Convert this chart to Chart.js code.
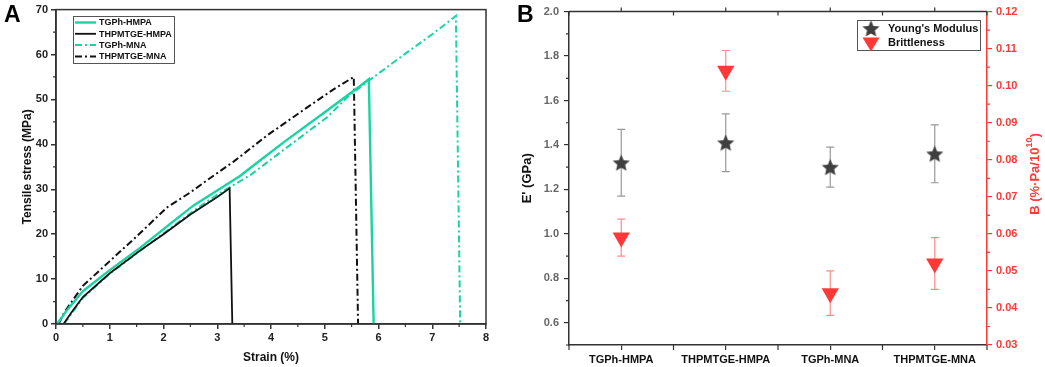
<!DOCTYPE html>
<html>
<head>
<meta charset="utf-8">
<script src="https://cdn.jsdelivr.net/npm/chart.js@4.4.1/dist/chart.umd.min.js"></script>
<style>
  html, body { margin: 0; padding: 0; background: #fff; }
  #wrap { position: relative; width: 1045px; height: 367px; overflow: hidden; }
  #chartA { position: absolute; left: 0; top: 0; }
  #chartB { position: absolute; left: 500px; top: 0; }
</style>
</head>
<body>
<div id="wrap">
  <canvas id="chartA" width="500" height="367"></canvas>
  <canvas id="chartB" width="545" height="367"></canvas>
</div>
<script>
// ---- Panel A: stress-strain curves ----
const seriesNames = ['TGPh-HMPA', 'THPMTGE-HMPA', 'TGPh-MNA', 'THPMTGE-MNA'];

const tgphHmpaStrain = [0.02, 0.2, 0.5, 1.0, 1.57, 2.07, 2.56, 3.0, 3.43, 3.62, 4.24, 5.05, 5.67, 5.82, 5.91];
const tgphHmpaStress = [0, 3.0, 7.3, 12.0, 17.0, 21.8, 26.4, 29.7, 33.0, 34.8, 40.5, 47.6, 53.1, 54.5, 0];

const thpHmpaStrain = [0.14, 0.3, 0.5, 1.0, 1.57, 2.0, 2.5, 3.0, 3.23, 3.28];
const thpHmpaStress = [0, 2.8, 6.0, 11.3, 16.4, 20.0, 24.4, 28.3, 30.2, 0];

const tgphMnaStrain = [0.15, 0.3, 0.5, 1.0, 1.57, 2.07, 2.56, 3.0, 3.62, 4.24, 5.05, 5.42, 5.8, 6.5, 7.0, 7.44, 7.52];
const tgphMnaStress = [0, 2.5, 5.8, 11.2, 16.3, 20.8, 25.2, 28.8, 33.2, 38.8, 46.1, 50.5, 54.0, 60.2, 64.5, 68.6, 0];

const thpMnaStrain = [0.05, 0.15, 0.5, 1.0, 1.5, 2.07, 2.5, 2.81, 3.31, 3.93, 4.55, 5.17, 5.54, 5.62];
const thpMnaStress = [0, 2.5, 8.5, 14.0, 19.5, 26.0, 29.3, 32.0, 36.2, 42.0, 47.2, 52.3, 55.0, 0];

const strainTicks = [0, 1, 2, 3, 4, 5, 6, 7, 8];
const stressTicks = [0, 10, 20, 30, 40, 50, 60, 70];

// ---- Panel B: modulus and brittleness ----
const samples = ['TGPh-HMPA', 'THPMTGE-HMPA', 'TGPh-MNA', 'THPMTGE-MNA'];
const youngsModulus = [1.32, 1.41, 1.30, 1.36];
const youngsErr = [0.15, 0.13, 0.09, 0.13];
const brittleness = [0.059, 0.104, 0.044, 0.052];
const brittleErr = [0.005, 0.0055, 0.006, 0.007];
const modulusTicks = [0.6, 0.8, 1.0, 1.2, 1.4, 1.6, 1.8, 2.0];
const brittleTicks = [0.03, 0.04, 0.05, 0.06, 0.07, 0.08, 0.09, 0.10, 0.11, 0.12];

const GREEN = '#19d3a2';
const BLACK = '#111';
const RED = '#ff3838';
const AXIS = '#333';
const FONT = "'Liberation Sans', Arial, sans-serif";
const DASHDOT = [7, 3, 2, 3];

Chart.defaults.font.family = FONT;
Chart.defaults.font.weight = 'bold';

function toPoints(xs, ys) {
  return xs.map((x, i) => ({ x: x, y: ys[i] }));
}

function setTicks(values) {
  return scale => { scale.ticks = values.map(v => ({ value: v })); };
}

// short outward ticks between the labelled ones
function drawMinor(ctx, scale, values, len, color, side) {
  ctx.save();
  ctx.strokeStyle = color;
  ctx.lineWidth = 1.2;
  ctx.beginPath();
  values.forEach(v => {
    const p = scale.getPixelForValue(v);
    if (side === 'bottom') { ctx.moveTo(p, scale.top); ctx.lineTo(p, scale.top + len); }
    if (side === 'left') { ctx.moveTo(scale.right, p); ctx.lineTo(scale.right - len, p); }
    if (side === 'right') { ctx.moveTo(scale.left, p); ctx.lineTo(scale.left + len, p); }
  });
  ctx.stroke();
  ctx.restore();
}

function halfSteps(ticks) {
  const out = [];
  for (let i = 0; i < ticks.length - 1; i++) out.push((ticks[i] + ticks[i + 1]) / 2);
  return out;
}

// ---- chart A ----
const panelA = {
  id: 'panelA',
  afterDraw(chart) {
    const ctx = chart.ctx;
    const a = chart.chartArea;
    ctx.save();
    ctx.strokeStyle = AXIS;
    ctx.lineWidth = 1.5;
    ctx.strokeRect(a.left, a.top, a.right - a.left, a.bottom - a.top);
    ctx.restore();

    drawMinor(ctx, chart.scales.x, halfSteps(strainTicks), 3, AXIS, 'bottom');
    drawMinor(ctx, chart.scales.y, halfSteps(stressTicks), 3, AXIS, 'left');

    // legend
    ctx.save();
    ctx.strokeStyle = '#555';
    ctx.lineWidth = 1;
    ctx.strokeRect(73.5, 16.5, 101, 47);
    const rows = [22.5, 33.8, 45, 56.5];
    chart.data.datasets.forEach((ds, i) => {
      ctx.strokeStyle = ds.borderColor;
      ctx.lineWidth = ds.borderWidth;
      ctx.setLineDash(ds.borderDash || []);
      ctx.beginPath();
      ctx.moveTo(75, rows[i]);
      ctx.lineTo(96, rows[i]);
      ctx.stroke();
      ctx.setLineDash([]);
      ctx.fillStyle = '#111';
      ctx.font = 'bold 9px ' + FONT;
      ctx.textBaseline = 'middle';
      ctx.fillText(ds.label, 99, rows[i] + 0.5, 73);
    });
    ctx.font = 'bold 23px ' + FONT;
    ctx.textBaseline = 'top';
    ctx.fillStyle = '#000';
    ctx.fillText('A', 4, 4);
    ctx.restore();
  }
};

new Chart(document.getElementById('chartA'), {
  type: 'scatter',
  data: {
    datasets: [
      { label: seriesNames[0], data: toPoints(tgphHmpaStrain, tgphHmpaStress), borderColor: GREEN, borderWidth: 2.4 },
      { label: seriesNames[1], data: toPoints(thpHmpaStrain, thpHmpaStress), borderColor: BLACK, borderWidth: 1.8 },
      { label: seriesNames[2], data: toPoints(tgphMnaStrain, tgphMnaStress), borderColor: GREEN, borderWidth: 2, borderDash: DASHDOT },
      { label: seriesNames[3], data: toPoints(thpMnaStrain, thpMnaStress), borderColor: BLACK, borderWidth: 2, borderDash: DASHDOT }
    ].map(ds => Object.assign(ds, { showLine: true, pointRadius: 0, tension: 0, fill: false }))
  },
  options: {
    responsive: false,
    animation: false,
    devicePixelRatio: 1,
    layout: { padding: { left: 0, right: 14, top: 6, bottom: 0 } },
    plugins: { legend: { display: false }, tooltip: { enabled: false } },
    scales: {
      x: {
        type: 'linear', min: 0, max: 8,
        afterBuildTicks: setTicks(strainTicks),
        afterFit: s => { s.height = 43; },
        ticks: { color: '#222', font: { size: 11, weight: 'bold' }, padding: 2 },
        grid: { drawOnChartArea: false, tickLength: 5, color: AXIS, lineWidth: 1.5 },
        border: { color: AXIS, width: 1.5 },
        title: { display: true, text: 'Strain (%)', color: '#111', font: { size: 12, weight: 'bold' }, padding: { top: 0, bottom: 2 } }
      },
      y: {
        type: 'linear', min: 0, max: 70,
        afterBuildTicks: setTicks(stressTicks),
        afterFit: s => { s.width = 56; },
        ticks: { color: '#222', font: { size: 11, weight: 'bold' }, padding: 3 },
        grid: { drawOnChartArea: false, tickLength: 5, color: AXIS, lineWidth: 1.5 },
        border: { color: AXIS, width: 1.5 },
        title: { display: true, text: 'Tensile stress (MPa)', color: '#111', font: { size: 12, weight: 'bold' }, padding: { top: 20, bottom: 0 } }
      }
    }
  },
  plugins: [panelA]
});

// ---- chart B ----
function makeStar(size, color) {
  const c = document.createElement('canvas');
  c.width = size;
  c.height = size;
  const g = c.getContext('2d');
  const R = size / 2 - 0.5, r = R * 0.46;
  g.beginPath();
  for (let i = 0; i < 10; i++) {
    const ang = -Math.PI / 2 + i * Math.PI / 5;
    const rad = i % 2 ? r : R;
    g.lineTo(size / 2 + rad * Math.cos(ang), size / 2 + 0.8 + rad * Math.sin(ang));
  }
  g.closePath();
  g.fillStyle = color;
  g.fill();
  return c;
}
const star = makeStar(19, '#3f3f3f');

const errorBars = {
  id: 'errorBars',
  beforeDatasetsDraw(chart) {
    const ctx = chart.ctx;
    chart.data.datasets.forEach((ds, i) => {
      const meta = chart.getDatasetMeta(i);
      const sc = chart.scales[ds.yAxisID];
      ds.data.forEach((v, j) => {
        const x = meta.data[j].x;
        const yt = sc.getPixelForValue(v + ds.errors[j]);
        const yb = sc.getPixelForValue(v - ds.errors[j]);
        ctx.save();
        ctx.strokeStyle = ds.errorColor;
        ctx.lineWidth = 1.2;
        ctx.beginPath();
        ctx.moveTo(x, yt); ctx.lineTo(x, yb);
        ctx.moveTo(x - 4, yt); ctx.lineTo(x + 4, yt);
        ctx.moveTo(x - 4, yb); ctx.lineTo(x + 4, yb);
        ctx.stroke();
        ctx.restore();
      });
    });
  }
};

const panelB = {
  id: 'panelB',
  afterDraw(chart) {
    const ctx = chart.ctx;
    const a = chart.chartArea;
    const xs = chart.scales.x;

    ctx.save();
    ctx.strokeStyle = AXIS;
    ctx.lineWidth = 1.5;
    ctx.beginPath();
    ctx.moveTo(a.left, a.top);
    ctx.lineTo(a.right, a.top);
    ctx.stroke();

    // category boundaries and centres: ticks on bottom and top
    ctx.lineWidth = 1.2;
    ctx.beginPath();
    for (let i = 0; i <= samples.length; i++) {
      const p = xs.getPixelForValue(i - 0.5);
      ctx.moveTo(p, a.bottom); ctx.lineTo(p, a.bottom + 5);
      ctx.moveTo(p, a.top); ctx.lineTo(p, a.top + 4);
    }
    samples.forEach((s, i) => {
      const p = xs.getPixelForValue(i);
      ctx.moveTo(p, a.top); ctx.lineTo(p, a.top - 4);
    });
    ctx.stroke();
    ctx.restore();

    drawMinor(ctx, chart.scales.y, [0.5, 0.7, 0.9, 1.1, 1.3, 1.5, 1.7, 1.9], 3, AXIS, 'left');
    drawMinor(ctx, chart.scales.y1, halfSteps(brittleTicks), 3, RED, 'right');

    // legend
    ctx.save();
    ctx.strokeStyle = '#555';
    ctx.lineWidth = 1;
    ctx.strokeRect(357.5, 20.5, 123, 30);
    ctx.drawImage(star, 371 - 9.5, 28.5 - 9.5);
    ctx.fillStyle = RED;
    ctx.beginPath();
    ctx.moveTo(371 - 8.5, 37.5);
    ctx.lineTo(371 + 8.5, 37.5);
    ctx.lineTo(371, 51.5);
    ctx.closePath();
    ctx.fill();
    ctx.fillStyle = '#111';
    ctx.font = 'bold 11px ' + FONT;
    ctx.textBaseline = 'middle';
    ctx.fillText("Young's Modulus", 388, 29);
    ctx.fillText('Brittleness', 388, 43);

    // right-axis title, reading upward
    ctx.translate(535, 174);
    ctx.rotate(-Math.PI / 2);
    ctx.fillStyle = RED;
    const main = 'B (%\u00b7Pa/10';
    ctx.font = 'bold 13px ' + FONT;
    const w1 = ctx.measureText(main).width;
    ctx.font = 'bold 9px ' + FONT;
    const w2 = ctx.measureText('10').width;
    ctx.font = 'bold 13px ' + FONT;
    const w3 = ctx.measureText(')').width;
    const x0 = -(w1 + w2 + w3) / 2;
    ctx.textBaseline = 'middle';
    ctx.fillText(main, x0, 0);
    ctx.font = 'bold 9px ' + FONT;
    ctx.fillText('10', x0 + w1, -5);
    ctx.font = 'bold 13px ' + FONT;
    ctx.fillText(')', x0 + w1 + w2, 0);
    ctx.restore();

    ctx.save();
    ctx.font = 'bold 23px ' + FONT;
    ctx.textBaseline = 'top';
    ctx.fillStyle = '#000';
    ctx.fillText('B', 17, 4);
    ctx.restore();
  }
};

new Chart(document.getElementById('chartB'), {
  type: 'line',
  data: {
    labels: samples,
    datasets: [
      {
        label: "Young's Modulus", data: youngsModulus, errors: youngsErr, errorColor: '#999',
        yAxisID: 'y', showLine: false, pointStyle: star, pointRadius: 9,
        backgroundColor: '#444', borderColor: '#444'
      },
      {
        label: 'Brittleness', data: brittleness, errors: brittleErr, errorColor: '#ff8c8c',
        yAxisID: 'y1', showLine: false, pointStyle: 'triangle', rotation: 180, pointRadius: 10,
        backgroundColor: RED, borderColor: RED, borderWidth: 0
      }
    ]
  },
  options: {
    responsive: false,
    animation: false,
    devicePixelRatio: 1,
    layout: { padding: { left: 0, right: 0, top: 9, bottom: 0 } },
    plugins: { legend: { display: false }, tooltip: { enabled: false } },
    scales: {
      x: {
        type: 'category', offset: true,
        afterFit: s => { s.height = 22; },
        ticks: { color: '#111', font: { size: 11, weight: 'bold' }, padding: 3, maxRotation: 0, autoSkip: false },
        grid: { drawOnChartArea: false, tickLength: 5, color: AXIS, lineWidth: 1.2 },
        border: { color: AXIS, width: 1.5 }
      },
      y: {
        type: 'linear', position: 'left', min: 0.5, max: 2.0,
        afterBuildTicks: setTicks(modulusTicks),
        afterFit: s => { s.width = 69; },
        ticks: { color: '#666', font: { size: 11, weight: 'bold' }, padding: 5, callback: v => v.toFixed(1) },
        grid: { drawOnChartArea: false, tickLength: 5, color: AXIS, lineWidth: 1.2 },
        border: { color: AXIS, width: 1.5 },
        title: { display: true, text: "E' (GPa)", color: '#111', font: { size: 13, weight: 'bold' }, padding: { top: 20, bottom: 0 } }
      },
      y1: {
        type: 'linear', position: 'right', min: 0.03, max: 0.12,
        afterBuildTicks: setTicks(brittleTicks),
        afterFit: s => { s.width = 58; },
        ticks: { color: RED, font: { size: 11, weight: 'bold' }, padding: 4, callback: v => v.toFixed(2) },
        grid: { drawOnChartArea: false, tickLength: 5, color: RED, lineWidth: 1.2 },
        border: { color: RED, width: 1.5 }
      }
    }
  },
  plugins: [errorBars, panelB]
});
</script>
</body>
</html>
